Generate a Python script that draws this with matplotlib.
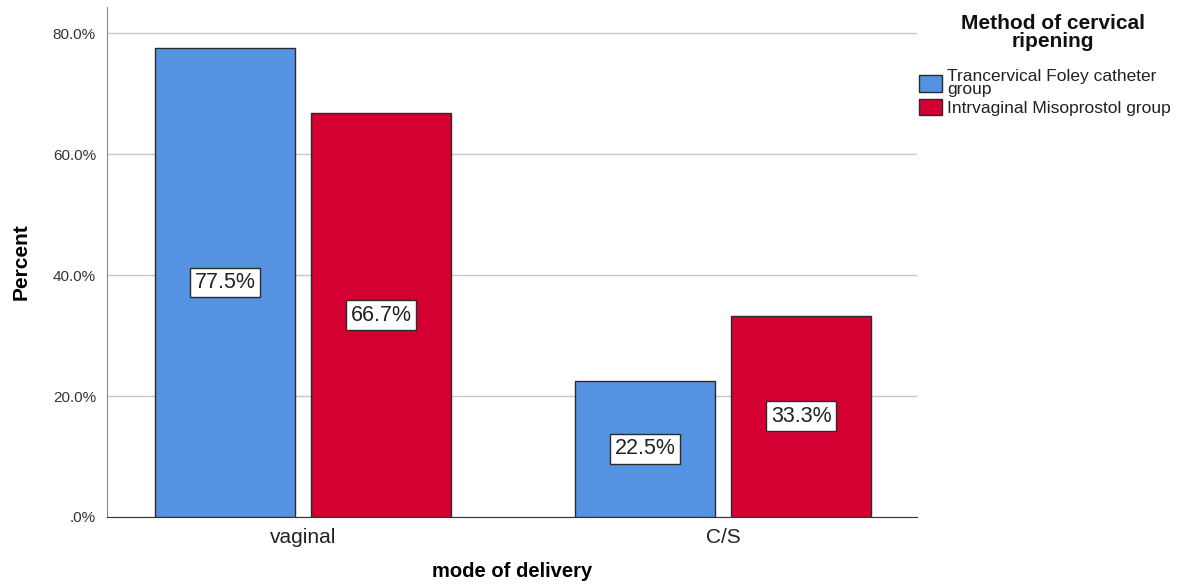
import numpy as np
import matplotlib.pyplot as plt

plt.rcParams['font.family'] = ['Liberation Sans', 'DejaVu Sans']

categories = ['vaginal', 'C/S']
groups = ['Trancervical Foley catheter\ngroup', 'Intrvaginal Misoprostol group']
foley = [77.5, 22.5]
miso = [66.7, 33.3]
colors = ['#5593E2', '#D50032']

fig = plt.figure(figsize=(11.84, 5.85), dpi=100)
ax = fig.add_axes([107/1184, 1 - 517/585, 810/1184, 510/585])

x = np.arange(len(categories))
w = 0.333
offs = 0.186
for vals, off, c, g in zip([foley, miso], [-offs, offs], colors, groups):
    ax.bar(x + off, vals, w, color=c, edgecolor='#2b2b2b', linewidth=1, label=g, zorder=3)
    for xi, v in zip(x + off, vals):
        ax.text(xi, v / 2, f'{v:.1f}%', ha='center', va='center', fontsize=15.5, color='#222222',
                bbox=dict(boxstyle='square,pad=0.2', fc='white', ec='#2b2b2b', lw=1), zorder=4)

ax.set_xlim(-0.467, 1.462)
ax.set_ylim(0, 84.3)
ax.set_yticks([0, 20, 40, 60, 80])
ax.set_yticklabels(['.0%', '20.0%', '40.0%', '60.0%', '80.0%'], fontsize=11, color='#333333')
ax.set_xticks(x)
ax.set_xticklabels(categories, fontsize=15, color='#222222')
ax.tick_params(axis='both', length=0)
ax.tick_params(axis='x', pad=8)
ax.tick_params(axis='y', pad=8)
ax.yaxis.grid(True, color='#c8c8c8', linewidth=1, zorder=0)
ax.set_axisbelow(True)
for s in ['top', 'right']:
    ax.spines[s].set_visible(False)
ax.spines['left'].set_color('#888888')
ax.spines['bottom'].set_color('#333333')

ax.set_ylabel('Percent', fontsize=15, fontweight='bold', labelpad=16)
ax.set_xlabel('mode of delivery', fontsize=14.5, fontweight='bold', labelpad=11)

fig.text(1053/1184, 1 - 14/585, 'Method of cervical\nripening', ha='center', va='top',
         fontsize=15, fontweight='bold', linespacing=0.95, color='#111111')
leg = ax.legend(loc='upper left', bbox_to_anchor=(916/1184, 1 - 66/585),
                bbox_transform=fig.transFigure, frameon=False, fontsize=12.5,
                handlelength=1.3, handleheight=1.1, handletextpad=0.3,
                labelspacing=0.1, borderaxespad=0.0, borderpad=0.2)
for t in leg.get_texts():
    t.set_linespacing(0.8)
    t.set_color('#222222')

fig.savefig('out.png', dpi=100)
